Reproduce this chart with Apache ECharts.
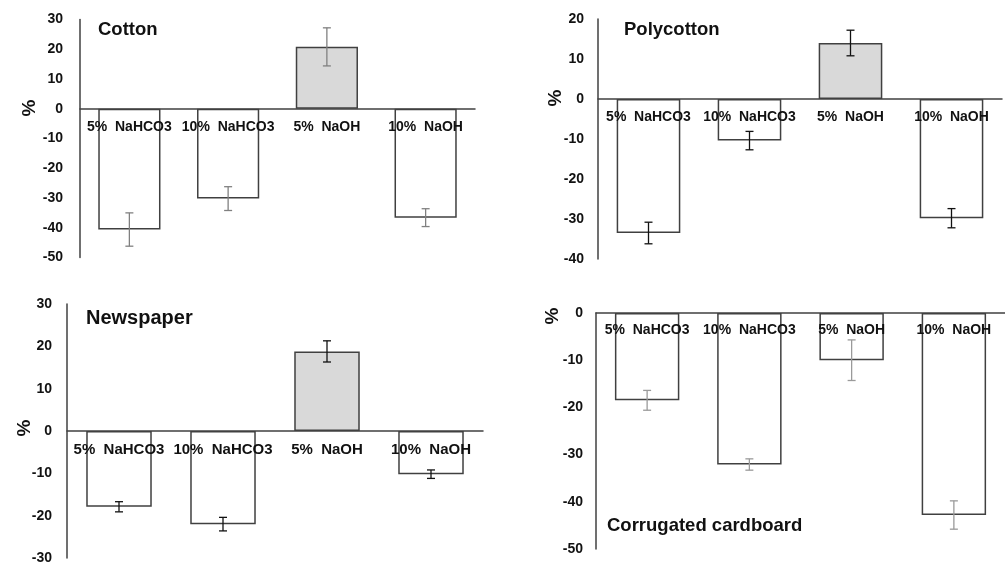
<!DOCTYPE html>
<html><head><meta charset="utf-8">
<script src="https://cdn.jsdelivr.net/npm/echarts@6/dist/echarts.min.js"></script>
<style>html,body{margin:0;padding:0;background:#fff}#c{width:1005px;height:565px}</style>
</head><body><div id="c"></div>
<script>
const categories = ['5%  NaHCO3', '10%  NaHCO3', '5%  NaOH', '10%  NaOH'];
const cotton = [-40.6, -30.2, 20.8, -36.6];
const cottonErr = [5.6, 4.0, 6.4, 3.0];
const polycotton = [-33.5, -10.4, 14.0, -29.8];
const polycottonErr = [2.7, 2.3, 3.2, 2.4];
const newspaper = [-17.9, -22.0, 18.8, -10.2];
const newspaperErr = [1.2, 1.6, 2.5, 1.0];
const cardboard = [-18.5, -32.1, -10.0, -42.8];
const cardboardErr = [2.1, 1.2, 4.3, 3.0];
const yTicks = [
  {min: -50, max: 30, interval: 10},
  {min: -40, max: 20, interval: 10},
  {min: -30, max: 30, interval: 10},
  {min: -50, max: 0, interval: 10}
];

const FONT = '"Liberation Sans", Arial, sans-serif';
const AXC = '#404040';
const panels = [
  {name: 'Cotton', vals: cotton, err: cottonErr, errColor: '#808080', grid: {left: 80, top: 19.5, width: 395, height: 238}, labMargin: 17, catFont: 14, catOff: 18},
  {name: 'Polycotton', vals: polycotton, err: polycottonErr, errColor: '#111', grid: {left: 598, top: 19, width: 404, height: 240}, labMargin: 14, catFont: 14, catOff: 18},
  {name: 'Newspaper', vals: newspaper, err: newspaperErr, errColor: '#111', grid: {left: 67, top: 304, width: 416, height: 254}, labMargin: 15, catFont: 15, catOff: 19},
  {name: 'Corrugated cardboard', vals: cardboard, err: cardboardErr, errColor: '#9a9a9a', grid: {left: 596, top: 313, width: 409, height: 236}, labMargin: 13, catFont: 14, catOff: 17}
];

const grids = [], xAxes = [], yAxes = [], series = [];
panels.forEach((p, i) => {
  grids.push(Object.assign({containLabel: false}, p.grid));
  xAxes.push({
    type: 'category', gridIndex: i, data: categories, z: 10,
    axisLine: {onZero: true, lineStyle: {color: AXC, width: 1.5}},
    axisTick: {show: false},
    axisLabel: {show: false},
    splitLine: {show: false}
  });
  yAxes.push({
    type: 'value', gridIndex: i, min: yTicks[i].min, max: yTicks[i].max, interval: yTicks[i].interval,
    axisLine: {show: true, onZero: false, lineStyle: {color: AXC, width: 1.5}},
    axisTick: {show: false},
    splitLine: {show: false},
    axisLabel: {margin: p.labMargin, color: '#111', fontWeight: 'bold', fontSize: 14, fontFamily: FONT}
  });
  series.push({
    type: 'bar', xAxisIndex: i, yAxisIndex: i, z: 2,
    barWidth: '63%',
    data: p.vals.map((v, k) => ({value: v, itemStyle: {color: v > 0 ? '#d9d9d9' : '#ffffff'}})),
    itemStyle: {borderColor: AXC, borderWidth: 1.5}
  });
  series.push({
    type: 'custom', xAxisIndex: i, yAxisIndex: i, z: 20,
    data: p.vals.map((v, k) => [k, v, p.err[k]]),
    encode: {x: 0, y: 1},
    renderItem: (params, api) => {
      const x = api.value(0), v = api.value(1), e = api.value(2);
      const hi = api.coord([x, v + e]);
      const lo = api.coord([x, v - e]);
      const c = 4;
      const st = {stroke: p.errColor, lineWidth: 1.3};
      return {type: 'group', children: [
        {type: 'line', shape: {x1: hi[0], y1: hi[1], x2: lo[0], y2: lo[1]}, style: st},
        {type: 'line', shape: {x1: hi[0] - c, y1: hi[1], x2: hi[0] + c, y2: hi[1]}, style: st},
        {type: 'line', shape: {x1: lo[0] - c, y1: lo[1], x2: lo[0] + c, y2: lo[1]}, style: st}
      ]};
    }
  });
  // category labels drawn just under the zero line
  series.push({
    type: 'custom', xAxisIndex: i, yAxisIndex: i, z: 30, silent: true,
    data: categories.map((c, k) => [k, 0]),
    encode: {x: 0, y: 1},
    renderItem: (params, api) => {
      const pt = api.coord([api.value(0), 0]);
      return {type: 'text', x: pt[0], y: pt[1] + p.catOff, style: {
        text: categories[params.dataIndex], fill: '#111', textAlign: 'center', textVerticalAlign: 'middle',
        font: 'bold ' + p.catFont + 'px ' + FONT}};
    }
  });
});

const titleStyle = (t, s) => ({text: t, font: 'bold ' + s + 'px ' + FONT, fill: '#111', textVerticalAlign: 'middle'});
const pctStyle = {text: '%', font: 'bold 19px ' + FONT, fill: '#111', textAlign: 'center', textVerticalAlign: 'middle'};
const graphic = [
  {type: 'text', x: 98, y: 30, style: titleStyle('Cotton', 18.5)},
  {type: 'text', x: 624, y: 30, style: titleStyle('Polycotton', 18.5)},
  {type: 'text', x: 86, y: 318, style: titleStyle('Newspaper', 20)},
  {type: 'text', x: 607, y: 526, style: titleStyle('Corrugated cardboard', 18.5)},
  {type: 'text', x: 30, y: 108, rotation: Math.PI / 2, style: pctStyle},
  {type: 'text', x: 556, y: 98, rotation: Math.PI / 2, style: pctStyle},
  {type: 'text', x: 25, y: 428, rotation: Math.PI / 2, style: pctStyle},
  {type: 'text', x: 553, y: 316, rotation: Math.PI / 2, style: pctStyle}
];

const chart = echarts.init(document.getElementById('c'), null, {renderer: 'canvas'});
chart.setOption({animation: false, backgroundColor: '#fff', grid: grids, xAxis: xAxes, yAxis: yAxes, series: series, graphic: graphic});
</script></body></html>
